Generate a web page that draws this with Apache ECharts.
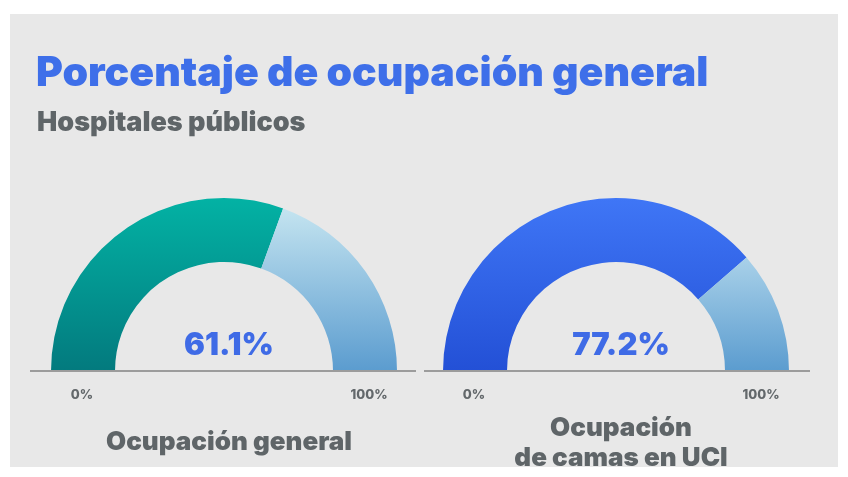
<!DOCTYPE html>
<html>
<head>
<meta charset="utf-8">
<script src="https://cdn.jsdelivr.net/npm/echarts@6/dist/echarts.min.js"></script>
<style>
  html, body { margin: 0; padding: 0; background: #ffffff; }
  #chart { width: 848px; height: 477px; }
</style>
</head>
<body>
<div id="chart"></div>
<script>
// datos
const gaugeNames = ['Ocupación general', 'Ocupación\nde camas en UCI'];
const gaugeValues = [61.1, 77.2];
const tickLabels = ['0%', '100%'];

const centers = [[224, 371], [616, 371]];
const fillColors = [
    ['#03b2a4', '#037a7e'],
    ['#3f76f6', '#2350d6']
];
const restColors = [
    ['#c4e4f0', '#5b9ccf'],
    ['#a9d1e9', '#5b9ccf']
];
const titleFont = 'Inter, "Noto Sans", sans-serif';

function grad(c) {
    return new echarts.graphic.LinearGradient(0, 0, 0, 1, [
        { offset: 0, color: c[0] },
        { offset: 1, color: c[1] }
    ]);
}

const series = [];
const titles = [
    {
        text: 'Porcentaje de ocupación general',
        left: 31, top: 48,
        textStyle: { color: '#3e6fe9', fontSize: 41, fontWeight: 900, fontFamily: titleFont }
    },
    {
        text: 'Hospitales públicos',
        left: 32, top: 104,
        textStyle: { color: '#5f6568', fontSize: 27, fontWeight: 900, fontFamily: titleFont }
    }
];

gaugeValues.forEach(function (v, i) {
    const c = centers[i];
    series.push({
        type: 'pie',
        center: c,
        radius: [109, 173],
        startAngle: 180,
        clockwise: true,
        silent: true,
        label: { show: false },
        labelLine: { show: false },
        emphasis: { disabled: true },
        data: [
            { value: v, itemStyle: { color: grad(fillColors[i]) } },
            { value: 100 - v, itemStyle: { color: grad(restColors[i]) } },
            { value: 100, itemStyle: { color: 'transparent' } }
        ]
    });
    titles.push({
        text: v.toFixed(1) + '%',
        left: c[0], top: c[1] - 46, textAlign: 'center',
        textStyle: { color: '#3f6be6', fontSize: 31, fontWeight: 900, fontFamily: titleFont }
    });
    titles.push({
        text: tickLabels[0],
        left: c[0] - 147, top: c[1] + 13, textAlign: 'center',
        textStyle: { color: '#63686b', fontSize: 13, fontWeight: 800, fontFamily: titleFont }
    });
    titles.push({
        text: tickLabels[1],
        left: c[0] + 140, top: c[1] + 13, textAlign: 'center',
        textStyle: { color: '#63686b', fontSize: 13, fontWeight: 800, fontFamily: titleFont }
    });
    const twoLines = gaugeNames[i].indexOf('\n') >= 0;
    titles.push({
        text: gaugeNames[i],
        left: c[0], top: twoLines ? c[1] + 37 : c[1] + 51, textAlign: 'center',
        textStyle: { color: '#5f6568', fontSize: 26, fontWeight: 900, fontFamily: titleFont, lineHeight: 30 }
    });
});

const chart = echarts.init(document.getElementById('chart'));
chart.setOption({
    animation: false,
    backgroundColor: '#ffffff',
    graphic: [
        { type: 'rect', z: -10, shape: { x: 10, y: 14, width: 828, height: 453 }, style: { fill: '#e8e8e8' } },
        { type: 'line', z: 10, shape: { x1: 30, y1: 371, x2: 416, y2: 371 }, style: { stroke: '#9c9c9c', lineWidth: 2 } },
        { type: 'line', z: 10, shape: { x1: 424, y1: 371, x2: 810, y2: 371 }, style: { stroke: '#9c9c9c', lineWidth: 2 } }
    ],
    title: titles,
    series: series
});
</script>
</body>
</html>
